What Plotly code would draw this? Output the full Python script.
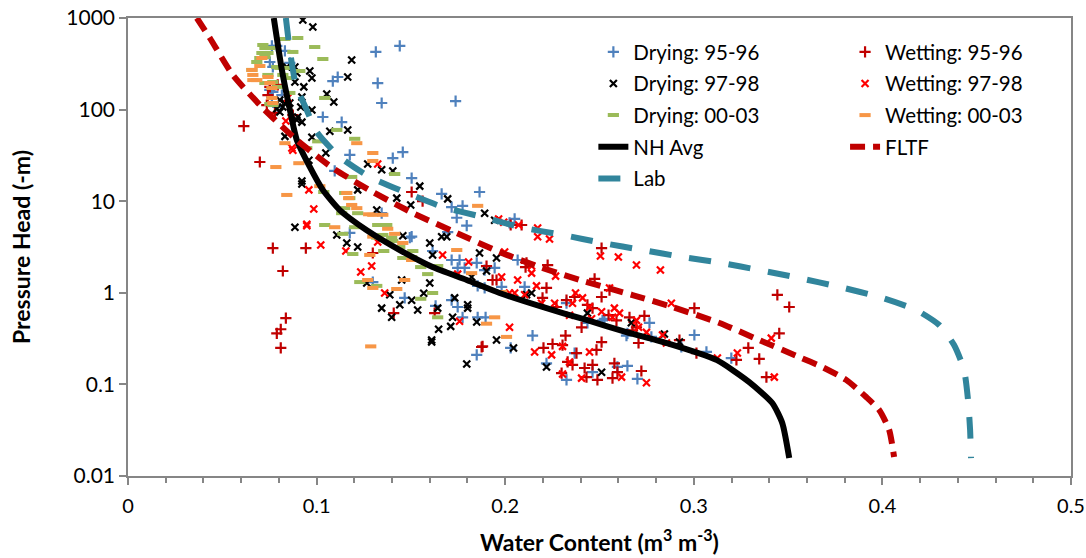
import plotly.graph_objects as go

# ---- data: (water content, pressure head) pairs ----
drying_95_96 = [(0.0763,495),(0.0789,495),(0.0832,437),(0.0858,323),(0.0752,331),(0.0768,292),(0.0816,144),(0.0752,164),(0.0768,156),(0.0763,137),(0.0794,107),
    (0.1314,426),(0.1441,495),(0.1086,205),(0.1112,227),(0.1324,195),(0.1345,118),(0.1737,124),(0.1033,83),(0.1133,73),(0.1176,32),(0.1096,21.4),(0.1404,29.6),(0.1457,34.4),(0.1504,17.9),(0.1345,7.4),
    (0.1663,12.0),(0.1774,8.9),(0.1864,12.6),(0.1743,6.6),(0.1796,5.4),(0.205,6.4),(0.1716,8.6),(0.1504,4.1),(0.1176,4.5),(0.1494,4.0),(0.1695,4.6),(0.1615,2.86),(0.1716,2.28),(0.1758,2.28),(0.1748,1.87),(0.1785,1.87),(0.1849,2.12),(0.1891,1.77),(0.1944,1.87),(0.1854,1.19),(0.1891,1.13),(0.1467,0.88),(0.1631,0.72),(0.1748,0.70),(0.1774,0.54),(0.1854,0.54),(0.1896,0.54),(0.1716,0.83),(0.1849,0.21),(0.1298,1.31),
    (0.2023,5.8),(0.2066,2.28),(0.2103,1.16),(0.1981,1.16),(0.2145,0.34),(0.2029,0.25),(0.2219,0.17),(0.2368,0.22),(0.2463,0.136),(0.2325,0.112),(0.2436,0.47),(0.2526,0.52),(0.2648,0.36),(0.2643,0.34),(0.2701,0.115),(0.2648,0.159),(0.2765,0.47),(0.2775,0.33),(0.3003,0.346),(0.3067,0.226),(0.3199,0.194),(0.2934,0.256),(0.2325,0.77),(0.2516,0.50),(0.2595,0.155)]

drying_97_98 = [(0.0927,950),(0.098,798),(0.1186,348),(0.0964,264),(0.0975,221),(0.1165,227),(0.1054,148),(0.1091,121),(0.0975,99),(0.0916,107),(0.0922,137),(0.0885,200),(0.0932,177),(0.0895,77),(0.0922,73),(0.0975,50),(0.0832,51),(0.107,58),(0.1165,60),(0.0842,292),(0.0885,292),(0.0895,251),(0.0805,127),(0.0821,107),(0.0805,94),(0.0789,102),(0.0858,118),(0.09,83),(0.0832,118),
    (0.1049,33.6),(0.0959,28),(0.0922,16.6),(0.0922,15.4),(0.1271,25.5),(0.1345,22),(0.1404,21.4),(0.1218,13.3),(0.1425,10.8),(0.1499,9.1),(0.1547,14.6),(0.1319,8.0),(0.0885,5.2),(0.1107,4.28),(0.1457,4.2),(0.1663,4.1),(0.1695,10.6),(0.1891,7.4),(0.1944,6.2),(0.116,3.5),(0.1218,3.16),(0.16,3.5),(0.1615,2.59),(0.169,4.1),(0.1864,2.72),(0.1954,2.40),(0.1901,1.73),(0.1822,1.49),(0.1451,1.38),(0.16,1.28),(0.1266,1.28),(0.1388,0.95),(0.1441,0.74),(0.1345,0.68),(0.1398,0.54),(0.1504,0.83),(0.1536,0.65),(0.1568,0.99),(0.1732,0.88),(0.1801,0.74),(0.1801,0.68),(0.1721,0.54),(0.1711,0.43),(0.1647,0.40),(0.1642,0.68),(0.1849,0.48),(0.161,0.305),(0.161,0.29),(0.1954,0.305),(0.1796,0.167),(0.2044,0.25),(0.2219,0.155),(0.2511,0.136),(0.214,0.995),(0.2113,0.95),(0.2436,0.60),(0.2669,0.47),(0.2844,0.355),(0.2924,0.29)]

drying_00_03 = [(0.0715,507),(0.0726,470),(0.071,415),(0.0699,366),(0.0726,375),(0.0742,415),(0.0752,470),(0.0832,590),(0.09,605),(0.0874,426),(0.099,482),(0.1033,357),(0.0657,271),(0.0726,195),(0.0768,200),(0.0789,292),(0.0805,285),(0.0842,285),(0.0821,239),(0.0847,221),(0.0794,177),(0.0858,152),(0.0911,264),(0.0768,112),(0.1043,134),(0.0742,239),(0.0683,331),(0.1006,45),(0.0948,38),(0.1107,60),(0.1202,48),(0.1038,12.6),(0.1176,10.8),(0.1186,18.4),(0.1149,12.3),(0.1202,5.2),(0.1149,8.4),(0.1218,7.4),(0.1133,7.4),(0.1043,5.5),(0.1324,5.5),(0.1372,5.5),(0.1319,4.0),(0.1351,4.28),(0.1398,4.0),(0.1414,19.8),(0.0752,115),(0.1139,4.4),(0.1192,2.65),(0.1229,1.31),(0.1319,1.19),(0.1356,2.86),(0.1457,2.40),(0.151,2.86),(0.1552,1.91),(0.1589,1.60),(0.1615,0.995),(0.1552,0.86),(0.1642,0.54),(0.1441,3.16),(0.1404,3.68),(0.1504,2.46),(0.1642,1.96)]

wetting_95_96 = [(0.0614,66),(0.0699,26.8),(0.0779,92),(0.0736,112),(0.0874,87),(0.0752,177),(0.0794,186),(0.0742,144),(0.1504,12.6),(0.1562,10.0),(0.2029,5.5),(0.2087,5.5),(0.0768,3.08),(0.0943,3.08),(0.0821,1.73),(0.0837,0.53),(0.081,0.40),(0.0789,0.36),(0.081,0.25),(0.1409,0.60),(0.1298,2.72),(0.1626,0.60),(0.188,0.26),(0.2511,3.08),(0.1901,1.96),(0.1933,1.38),(0.1954,1.38),(0.2108,1.91),(0.2113,2.12),(0.2225,2.01),(0.2474,1.42),(0.2553,1.07),(0.2511,0.90),(0.2219,1.13),(0.2368,0.90),(0.2325,0.83),(0.2198,0.88),(0.2272,0.70),(0.2436,0.74),(0.2463,0.68),(0.2548,0.57),(0.2738,0.56),(0.259,0.50),(0.2659,0.54),(0.2696,0.42),(0.2675,0.39),(0.2707,0.283),(0.2511,0.29),(0.2405,0.42),(0.232,0.34),(0.2251,0.276),(0.2203,0.25),(0.2304,0.269),(0.1875,0.256),(0.3003,0.68),(0.2924,0.305),(0.3014,0.22),(0.3289,0.25),(0.3347,0.19),(0.3453,0.36),(0.3506,0.70),(0.3443,0.95),(0.3385,0.12),(0.2463,0.163),(0.2579,0.17),(0.2722,0.14),(0.2595,0.136),(0.2569,0.117),(0.2431,0.12),(0.2489,0.112),(0.2331,0.176),(0.2299,0.133),(0.2357,0.163),(0.2484,0.238),(0.2378,0.22),(0.2421,0.151),(0.3226,0.185)]

wetting_97_98 = [(0.0847,134),(0.0837,75),(0.0869,38),(0.0874,36),(0.0959,13.3),(0.0985,8.2),(0.1324,25.5),(0.0948,5.6),(0.1965,6.4),(0.1992,5.9),(0.2071,5.5),(0.0948,5.4),(0.1022,3.33),(0.1155,2.86),(0.1234,1.69),(0.1292,1.96),(0.1324,3.59),(0.1361,0.995),(0.1668,2.59),(0.1806,2.17),(0.1748,1.60),(0.1758,0.49),(0.2172,5.1),(0.2172,4.1),(0.2235,3.86),(0.2505,2.52),(0.26,2.46),(0.2696,2.01),(0.2823,1.77),(0.1997,2.79),(0.214,1.96),(0.214,1.64),(0.2267,1.52),(0.1981,1.49),(0.2066,1.38),(0.2166,1.19),(0.2023,0.995),(0.205,0.995),(0.2103,0.95),(0.2193,0.77),(0.2262,0.77),(0.2373,0.995),(0.2357,0.77),(0.241,0.88),(0.2447,0.70),(0.2341,0.57),(0.2458,0.52),(0.2511,0.62),(0.2579,0.68),(0.2606,0.60),(0.2569,0.54),(0.2696,0.50),(0.2707,0.42),(0.2749,0.37),(0.2834,0.346),(0.2855,0.283),(0.2881,0.77),(0.2023,0.42),(0.2156,0.226),(0.2246,0.21),(0.2304,0.26),(0.2341,0.176),(0.2304,0.13),(0.2405,0.117),(0.2447,0.226),(0.2617,0.12),(0.2749,0.104),(0.3125,0.194),(0.3231,0.22),(0.3411,0.32),(0.3427,0.12),(0.2553,1.13)]

wetting_00_03 = [(0.071,366),(0.0699,299),(0.0657,271),(0.0662,239),(0.0662,210),(0.0683,210),(0.0742,227),(0.0752,195),(0.0763,134),(0.0768,118),(0.0763,172),(0.0832,43),(0.0784,23.6),(0.0906,26),(0.0842,11.7),(0.1017,14.6),(0.116,12.3),(0.117,10.8),(0.1298,33.6),(0.1298,27.5),(0.1213,43),(0.1186,9.1),(0.1298,7.1),(0.1351,7.1),(0.1096,5.2),(0.1213,8.4),(0.1276,7.2),(0.1377,5.0),(0.1414,4.4),(0.1298,4.1),(0.1854,8.9),(0.1282,2.59),(0.1457,3.5),(0.1504,2.28),(0.1271,1.38),(0.1298,1.13),(0.1425,1.10),(0.1467,1.38),(0.1287,0.26),(0.1743,2.93),(0.1822,1.64),(0.1944,0.54),(0.1901,0.46),(0.2007,0.33),(0.1981,1.02)]

nh_avg = [(0.0773,1000),(0.0816,270),(0.0858,100),(0.0895,46.6),(0.0964,23.7),(0.1033,13.3),(0.1123,8.0),(0.1266,4.82),(0.1441,2.93),(0.1615,1.91),(0.1796,1.38),(0.197,0.995),(0.2198,0.70),(0.2431,0.505),(0.2643,0.373),(0.2855,0.283),(0.312,0.185),(0.3294,0.106),(0.3416,0.0626),(0.3469,0.0379),(0.3506,0.0157)]

fltf = [(0.0365,1000),(0.0434,605),(0.0556,239),(0.0715,104),(0.0895,46.6),(0.1086,23.0),(0.1298,12.6),(0.151,7.43),(0.1743,4.50),(0.197,2.79),(0.2182,1.91),(0.2394,1.38),(0.2675,0.946),(0.2887,0.70),(0.3136,0.468),(0.3347,0.305),(0.3559,0.199),(0.3681,0.155),(0.3808,0.112),(0.3914,0.0728),(0.3983,0.0526),(0.4036,0.0318),(0.4062,0.0161)]

lab = [(0.0837,1000),(0.0858,448),(0.089,186),(0.0943,104),(0.1001,56.9),(0.1123,30.4),(0.1282,18.4),(0.1478,12.3),(0.1668,8.65),(0.188,6.72),(0.2076,5.23),(0.2304,4.28),(0.2516,3.50),(0.2728,2.93),(0.294,2.46),(0.3151,2.11),(0.3347,1.77),(0.3559,1.45),(0.3771,1.16),(0.3983,0.90),(0.4179,0.649),(0.4301,0.445),(0.438,0.269),(0.4433,0.144),(0.4454,0.0676),(0.4465,0.0318),(0.447,0.0157)]

y_tickvals = [0.01, 0.1, 1, 10, 100, 1000]
y_ticktext = ["0.01", "0.1", "1", "10", "100", "1000"]

FONT = "Lato, Carlito, 'Liberation Sans', sans-serif"

def xs(p):
    return [a for a, b in p]

def ys(p):
    return [b for a, b in p]

fig = go.Figure()

scatter_specs = [
    ("Drying: 95-96", drying_95_96, "cross-thin", "#4F81BD", 8, 2.2, "legend"),
    ("Wetting: 95-96", wetting_95_96, "cross-thin", "#C00000", 8, 2.2, "legend2"),
    ("Drying: 97-98", drying_97_98, "x-thin", "#000000", 7, 2.2, "legend"),
    ("Wetting: 97-98", wetting_97_98, "x-thin", "#FF0000", 7, 2.2, "legend2"),
    ("Drying: 00-03", drying_00_03, "line-ew", "#9BBB59", 8, 4, "legend"),
    ("Wetting: 00-03", wetting_00_03, "line-ew", "#F79646", 8, 4, "legend2"),
]
for name, pts, sym, col, size, lw, leg in scatter_specs:
    fig.add_trace(go.Scatter(
        x=xs(pts), y=ys(pts), mode="markers", name=name,
        legend=leg, legendgroup=name,
        marker=dict(symbol=sym, size=size, color=col, line=dict(color=col, width=lw)),
    ))

line_specs = [
    ("NH Avg", nh_avg, "#000000", "solid", "legend"),
    ("FLTF", fltf, "#C00000", "15px,8px", "legend2"),
    ("Lab", lab, "#31859C", "22px,18px", "legend"),
]
for name, pts, col, dash, leg in line_specs:
    fig.add_trace(go.Scatter(
        x=xs(pts), y=ys(pts), mode="lines", name=name,
        legend=leg, legendgroup=name,
        line=dict(color=col, width=6, dash=dash, shape="spline", smoothing=0.6),
    ))

axis_common = dict(
    showline=True, linecolor="#868686", linewidth=1.5, mirror=True,
    ticks="outside", ticklen=7, tickcolor="#868686", tickwidth=1.5,
    showgrid=False, zeroline=False, automargin=False,
)

fig.update_layout(
    width=1086, height=558,
    margin=dict(l=128, r=15, t=18, b=82),
    paper_bgcolor="white", plot_bgcolor="white",
    font=dict(family=FONT, size=21, color="#000000"),
    xaxis=dict(
        range=[0, 0.5], dtick=0.1, tick0=0,
        minor=dict(dtick=0.02, ticks="outside", ticklen=5, tickcolor="#868686", tickwidth=1.5),
        ticklabelstandoff=4,
        tickfont=dict(family=FONT, size=20, color="#000000"),
        title=dict(text="<b>Water Content (m<sup>3</sup> m<sup>-3</sup>)</b>",
                   font=dict(family=FONT, size=23), standoff=19),
        **axis_common,
    ),
    yaxis=dict(
        type="log", range=[-2, 3],
        tickvals=y_tickvals, ticktext=y_ticktext,
        tickfont=dict(family=FONT, size=21, color="#000000"),
        title=dict(text="<b>Pressure Head (-m)</b>", font=dict(family=FONT, size=23), standoff=29),
        **axis_common,
    ),
    legend=dict(
        x=0.4935, y=0.9695, xanchor="left", yanchor="top",
        bgcolor="rgba(0,0,0,0)", font=dict(family=FONT, size=20.5),
        tracegroupgap=2, itemsizing="trace",
    ),
    legend2=dict(
        x=0.7604, y=0.9695, xanchor="left", yanchor="top",
        bgcolor="rgba(0,0,0,0)", font=dict(family=FONT, size=20.5),
        tracegroupgap=2, itemsizing="trace",
    ),
    showlegend=True,
)

# remove the browser's default 8px page margin so the figure sits at (0, 0)
fig.write_html("out.html", config={"displayModeBar": False},
               post_script="document.body.style.margin='0';")
